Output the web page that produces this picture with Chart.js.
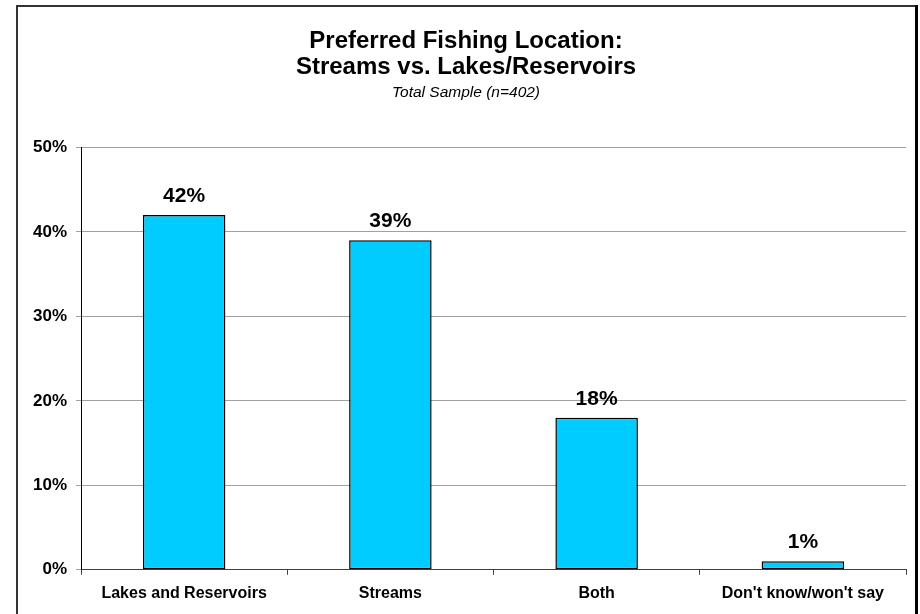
<!DOCTYPE html>
<html>
<head>
<meta charset="utf-8">
<script src="https://cdn.jsdelivr.net/npm/chart.js@4.4.1/dist/chart.umd.min.js"></script>
<style>
html,body{margin:0;padding:0;background:#fff;}
#wrap{width:920px;height:614px;position:relative;}
</style>
</head>
<body>
<div id="wrap"><canvas id="c" width="920" height="614"></canvas></div>
<script>
const categories = ["Lakes and Reservoirs", "Streams", "Both", "Don't know/won't say"];
const values = [42, 39, 18, 1];
const titleLines = ["Preferred Fishing Location:", "Streams vs. Lakes/Reservoirs"];
const subtitleText = "Total Sample (n=402)";
const yMin = 0, yMax = 50, yStep = 10;

const FONT = "Arial, 'Liberation Sans', sans-serif";

const framePlugin = {
  id: 'frame',
  beforeDraw(chart) {
    const ctx = chart.ctx;
    ctx.save();
    ctx.fillStyle = '#fff';
    ctx.fillRect(0, 0, chart.width, chart.height);
    ctx.strokeStyle = '#333';
    ctx.lineWidth = 2;
    ctx.beginPath();
    ctx.moveTo(17, 620);
    ctx.lineTo(17, 6);
    ctx.lineTo(915, 6);
    ctx.stroke();
    ctx.strokeStyle = '#000';
    ctx.lineWidth = 3;
    ctx.beginPath();
    ctx.moveTo(916.5, 5);
    ctx.lineTo(916.5, 620);
    ctx.stroke();
    ctx.restore();
  }
};

const labelPlugin = {
  id: 'barLabels',
  afterDatasetsDraw(chart) {
    const ctx = chart.ctx;
    const meta = chart.getDatasetMeta(0);
    ctx.save();
    ctx.font = "bold 21px " + FONT;
    ctx.fillStyle = '#000';
    ctx.textAlign = 'center';
    ctx.textBaseline = 'alphabetic';
    meta.data.forEach((bar, i) => {
      ctx.fillText(values[i] + '%', bar.x, bar.y - 13);
    });
    ctx.restore();
  }
};

new Chart(document.getElementById('c'), {
  type: 'bar',
  data: {
    labels: categories,
    datasets: [{
      data: values,
      backgroundColor: '#00CCFF',
      borderColor: '#000',
      borderWidth: 1.5,
      borderSkipped: false,
      barPercentage: 0.4,
      categoryPercentage: 1.0
    }]
  },
  options: {
    responsive: false,
    animation: false,
    devicePixelRatio: 1,
    layout: { padding: { left: 26, right: 14, top: 28, bottom: 2 } },
    plugins: {
      legend: { display: false },
      tooltip: { enabled: false },
      title: {
        display: true,
        text: titleLines,
        color: '#000',
        font: { family: FONT, size: 24, weight: 'bold', lineHeight: 1.1 },
        padding: { top: 0, bottom: 0 }
      },
      subtitle: {
        display: true,
        text: subtitleText,
        color: '#000',
        font: { family: FONT, size: 15.5, style: 'italic', lineHeight: 1.2 },
        padding: { top: 3, bottom: 45 }
      }
    },
    scales: {
      x: {
        offset: true,
        grid: {
          display: true,
          offset: true,
          drawOnChartArea: false,
          drawTicks: true,
          tickLength: 5,
          color: '#404040'
        },
        border: { display: true, color: '#404040', width: 1 },
        ticks: {
          color: '#000',
          padding: 9,
          maxRotation: 0,
          autoSkip: false,
          font: { family: FONT, size: 16, weight: 'bold' }
        }
      },
      y: {
        min: yMin,
        max: yMax,
        grid: {
          color: '#A0A0A0',
          tickLength: 5,
          drawTicks: true
        },
        border: { display: true, color: '#000', width: 1 },
        ticks: {
          stepSize: yStep,
          color: '#000',
          padding: 9,
          font: { family: FONT, size: 17, weight: 'bold' },
          callback: v => v + '%'
        },
        afterFit(scale) { scale.width = 55; }
      }
    }
  },
  plugins: [framePlugin, labelPlugin]
});
</script>
</body>
</html>
